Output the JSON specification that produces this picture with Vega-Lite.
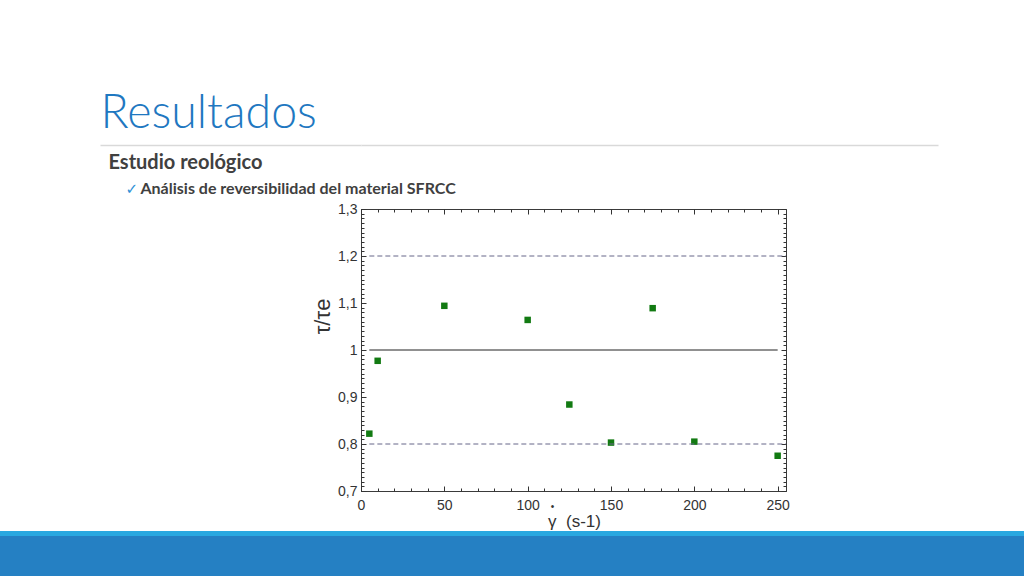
{
  "$schema": "https://vega.github.io/schema/vega-lite/v6.json",
  "background": "white",
  "padding": 0,
  "autosize": {"type": "pad"},
  "bounds": "flush",
  "align": "each",
  "spacing": 0,
  "columns": 3,
  "config": {
    "view": {"stroke": null},
    "axis": {"grid": false, "domain": false, "labelFont": "Liberation Sans", "titleFont": "Liberation Sans", "labelColor": "#333333", "titleColor": "#333333", "tickColor": "#333333", "labelFlush": false, "labelOverlap": false}
  },
  "concat": [
    {
      "data": {"values": []},
      "mark": "point",
      "width": 100,
      "height": 209,
      "encoding": {
        "x": {"field": "a", "type": "quantitative", "scale": {"domain": [0, 1]},
          "axis": {"orient": "top", "ticks": false, "labels": false,
            "title": "✓", "titleFont": "DejaVu Sans", "titleFontSize": 15, "titleFontWeight": "bold", "titleColor": "#2E8FD6",
            "titleX": 125, "titleY": 193, "titleAlign": "left", "titleBaseline": "alphabetic", "titleAngle": 0}},
        "y": {"field": "b", "type": "quantitative", "scale": {"domain": [0, 1]},
          "axis": {"orient": "left", "ticks": false, "labels": false,
            "title": "Estudio reológico", "titleFont": "Lato", "titleFontWeight": "bold", "titleFontSize": 20, "titleColor": "#404040",
            "titleX": 108, "titleY": 168, "titleAngle": 0, "titleAlign": "left", "titleBaseline": "alphabetic"}}
      }
    },
    {
      "data": {"values": []},
      "mark": "point",
      "width": 261,
      "height": 209,
      "encoding": {
        "x": {"field": "a", "type": "quantitative", "scale": {"domain": [0, 1]},
          "axis": {"orient": "bottom", "offset": -64, "domain": true, "domainColor": "#D9D9D9", "domainWidth": 1.5, "ticks": false, "labels": false,
            "title": "Resultados", "titleFont": "Lato", "titleFontWeight": 300, "titleFontSize": 46.5, "titleColor": "#1F78C1",
            "titleX": 0, "titleY": -18, "titleAlign": "left", "titleBaseline": "alphabetic", "titleAngle": 0}},
        "y": {"field": "b", "type": "quantitative", "scale": {"domain": [0, 1]},
          "axis": {"orient": "left", "ticks": false, "labels": false,
            "title": "Análisis de reversibilidad del material SFRCC", "titleFont": "Lato", "titleFontWeight": "bold", "titleFontSize": 16, "titleColor": "#404040",
            "titleX": 40, "titleY": 193, "titleAngle": 0, "titleAlign": "left", "titleBaseline": "alphabetic"}}
      }
    },
    {
      "data": {"values": []},
      "mark": "point",
      "width": 577,
      "height": 209,
      "encoding": {
        "x": {"field": "a", "type": "quantitative", "scale": {"domain": [0, 1]},
          "axis": {"orient": "bottom", "offset": -64, "domain": true, "domainColor": "#D9D9D9", "domainWidth": 1.5, "ticks": false, "labels": false, "title": null}}
      }
    },
    {"data": {"values": []}, "mark": "point", "width": 100, "height": 327},
    {"data": {"values": []}, "mark": "point", "width": 261, "height": 327},
    {
      "width": 425,
      "height": 282,
      "view": {"stroke": "#3A3A3A", "strokeWidth": 1},
      "resolve": {"axis": {"x": "independent", "y": "independent"}},
      "layer": [
        {
          "data": {"values": [
            {"shear": 5, "ratio": 0.822},
            {"shear": 10, "ratio": 0.977},
            {"shear": 50, "ratio": 1.094},
            {"shear": 100, "ratio": 1.064},
            {"shear": 125, "ratio": 0.884},
            {"shear": 150, "ratio": 0.803},
            {"shear": 175, "ratio": 1.089},
            {"shear": 200, "ratio": 0.805},
            {"shear": 250, "ratio": 0.775}
          ]},
          "mark": {"type": "square", "size": 42, "color": "#127A12", "opacity": 1},
          "encoding": {
            "x": {"field": "shear", "type": "quantitative", "scale": {"domain": [0, 255], "nice": false, "zero": false},
              "axis": {"orient": "bottom", "values": [0, 50, 100, 150, 200, 250], "tickSize": -5, "labelPadding": 12, "labelFontSize": 14,
                "title": "γ\u00a0\u00a0(s-1)", "titleFontSize": 17, "titleFontWeight": "normal", "titleX": 213, "titleY": 30, "titleBaseline": "middle", "titleAlign": "center", "titleAngle": 0}},
            "y": {"field": "ratio", "type": "quantitative", "scale": {"domain": [0.7, 1.3], "nice": false, "zero": false},
              "axis": {"orient": "left", "values": [0.7, 0.8, 0.9, 1, 1.1, 1.2, 1.3], "format": ".1~f", "labelExpr": "replace(datum.label, '.', ',')", "tickSize": -5, "labelPadding": 9, "labelFontSize": 14,
                "title": "τ/τe", "titleFontSize": 22, "titleFontWeight": "normal", "titleX": -39, "titleY": 107, "titleAngle": 270, "titleAlign": "center", "titleBaseline": "middle"}}
          }
        },
        {
          "data": {"values": [{"level": 1.2, "from": 5, "to": 255}]},
          "mark": {"type": "rule", "strokeDash": [5, 3], "color": "#676789", "strokeWidth": 1},
          "encoding": {
            "x": {"field": "from", "type": "quantitative", "scale": {"domain": [0, 255], "nice": false, "zero": false},
              "axis": {"orient": "top", "values": [0, 50, 100, 150, 200, 250], "labels": false, "tickSize": -5,
                "title": "•", "titleFontSize": 10, "titleFontWeight": "normal", "titleX": 191, "titleY": 297, "titleAlign": "center", "titleBaseline": "middle", "titleAngle": 0}},
            "x2": {"field": "to"},
            "y": {"field": "level", "type": "quantitative", "scale": {"domain": [0.7, 1.3], "nice": false, "zero": false},
              "axis": {"orient": "right", "values": [0.7, 0.8, 0.9, 1, 1.1, 1.2, 1.3], "labels": false, "tickSize": -5, "title": null}}
          }
        },
        {
          "data": {"values": [{"level": 0.8, "from": 5, "to": 255}]},
          "mark": {"type": "rule", "strokeDash": [5, 3], "color": "#676789", "strokeWidth": 1},
          "encoding": {
            "x": {"field": "from", "type": "quantitative", "scale": {"domain": [0, 255], "nice": false, "zero": false},
              "axis": {"orient": "bottom", "tickCount": 25, "labels": false, "tickSize": -3, "title": null}},
            "x2": {"field": "to"},
            "y": {"field": "level", "type": "quantitative", "scale": {"domain": [0.7, 1.3], "nice": false, "zero": false},
              "axis": {"orient": "left", "tickCount": 60, "labels": false, "tickSize": -3, "title": null}}
          }
        },
        {
          "data": {"values": [{"level": 1.0, "from": 5, "to": 250}]},
          "mark": {"type": "rule", "color": "#222222", "strokeWidth": 1},
          "encoding": {
            "x": {"field": "from", "type": "quantitative", "scale": {"domain": [0, 255], "nice": false, "zero": false},
              "axis": {"orient": "top", "tickCount": 25, "labels": false, "tickSize": -3, "title": null}},
            "x2": {"field": "to"},
            "y": {"field": "level", "type": "quantitative", "scale": {"domain": [0.7, 1.3], "nice": false, "zero": false},
              "axis": {"orient": "right", "tickCount": 60, "labels": false, "tickSize": -3, "title": null}}
          }
        }
      ]
    },
    {
      "data": {"values": []},
      "mark": "point",
      "width": 100,
      "height": 40,
      "view": {"fill": "#2580C3", "stroke": null},
      "encoding": {
        "x": {"field": "a", "type": "quantitative", "scale": {"domain": [0, 1]},
          "axis": {"orient": "top", "domain": true, "domainColor": "#29A8E0", "domainWidth": 5, "offset": 2.5, "translate": 0, "ticks": false, "labels": false, "title": null}}
      }
    },
    {
      "data": {"values": []},
      "mark": "point",
      "width": 261,
      "height": 40,
      "view": {"fill": "#2580C3", "stroke": null},
      "encoding": {
        "x": {"field": "a", "type": "quantitative", "scale": {"domain": [0, 1]},
          "axis": {"orient": "top", "domain": true, "domainColor": "#29A8E0", "domainWidth": 5, "offset": 2.5, "translate": 0, "ticks": false, "labels": false, "title": null}}
      }
    },
    {
      "data": {"values": []},
      "mark": "point",
      "width": 663,
      "height": 40,
      "view": {"fill": "#2580C3", "stroke": null},
      "encoding": {
        "x": {"field": "a", "type": "quantitative", "scale": {"domain": [0, 1]},
          "axis": {"orient": "top", "domain": true, "domainColor": "#29A8E0", "domainWidth": 5, "offset": 2.5, "translate": 0, "ticks": false, "labels": false, "title": null}}
      }
    }
  ]
}
